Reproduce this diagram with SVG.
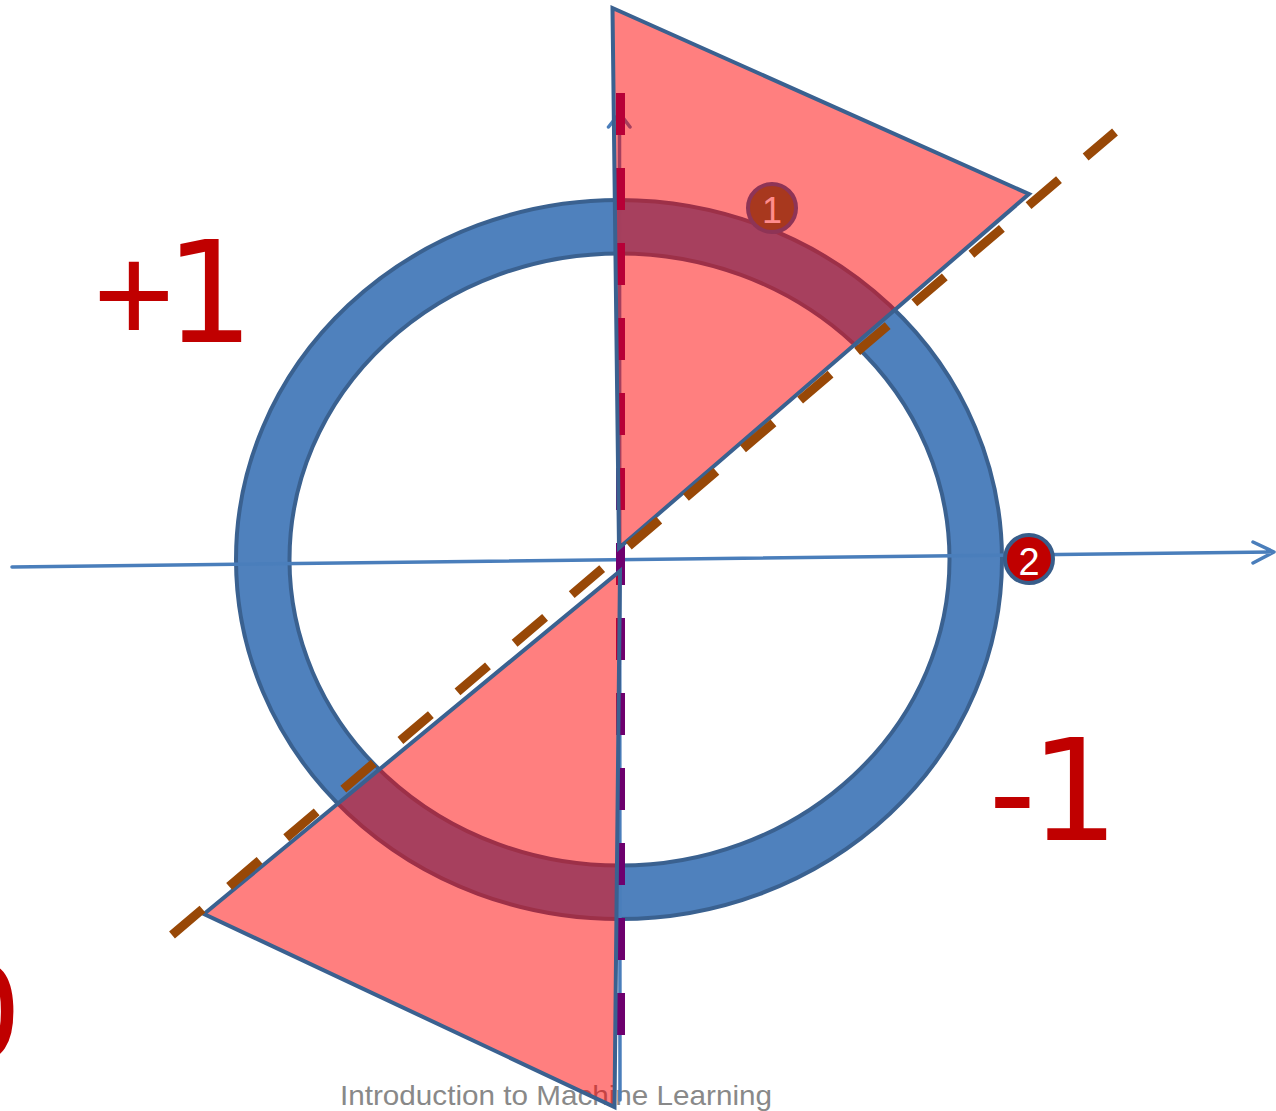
<svg xmlns="http://www.w3.org/2000/svg" width="1276" height="1111" viewBox="0 0 1276 1111">
<style>
.axis{fill:none;stroke:#4A7EBB;stroke-width:3.5;stroke-linecap:round;stroke-linejoin:round}
.tri{fill:#FF0000;fill-opacity:0.5;stroke:#3A6190;stroke-width:4;stroke-linejoin:miter}
.big{fill:#C00000;font-size:140px}
</style>
<rect width="1276" height="1111" fill="#FFFFFF"/>
<text x="340" y="1105" font-family="Liberation Sans, Arial, sans-serif" font-size="28" fill="#898989" textLength="432" lengthAdjust="spacingAndGlyphs">Introduction to Machine Learning</text>
<g id="ring">
<path d="M236,559.5 a383,359.5 0 1,0 766,0 a383,359.5 0 1,0 -766,0 Z M289.5,559.5 a330,306 0 1,0 660,0 a330,306 0 1,0 -660,0 Z" fill="#4F81BD" fill-rule="evenodd" stroke="#3A6190" stroke-width="4"/>
</g>
<g id="connectors">
<path class="axis" d="M12,567 L1274,552 M1253,542 L1274,552 L1253,563"/>
<path class="axis" d="M620,1100 L619.5,113 M608.5,127 L619.5,113 L630,127"/>
<line x1="620.5" y1="93" x2="620.5" y2="1035" stroke="#6E006E" stroke-width="9" stroke-dasharray="42 33"/>
</g>
<g id="triangle-top">
<polygon class="tri" points="612.5,8 1029,194 619,548"/>
</g>
<g id="triangle-bottom">
<polygon class="tri" points="204,914 620,571 614.5,1107"/>
</g>
<g id="separator">
<line x1="172" y1="935" x2="1115" y2="132" stroke="#984807" stroke-width="9" stroke-dasharray="40 35"/>
</g>
<g id="marker-1">
<circle cx="772" cy="208" r="24" fill="#A8381E" stroke="#8E3456" stroke-width="4"/>
<text x="772" y="223" text-anchor="middle" font-family="Liberation Sans, Arial, sans-serif" font-size="36" fill="#FF8C8C">1</text>
</g>
<g id="marker-2">
<circle cx="1029" cy="559" r="24" fill="#C00000" stroke="#385D8A" stroke-width="4"/>
<text x="1029" y="575" text-anchor="middle" font-family="Liberation Sans, Arial, sans-serif" font-size="38" fill="#FFFFFF">2</text>
</g>
<g id="labels">
<text class="big" y="342"><tspan x="93" font-family="Liberation Sans, Arial, sans-serif">+</tspan><tspan x="165" font-family="DejaVu Sans, sans-serif">1</tspan></text>
<text class="big" y="840"><tspan x="989" font-family="Liberation Sans, Arial, sans-serif">-</tspan><tspan x="1030" font-family="DejaVu Sans, sans-serif">1</tspan></text>
<text class="big" x="-59" y="1060" font-family="Liberation Sans, Arial, sans-serif">0</text>
</g>
</svg>
